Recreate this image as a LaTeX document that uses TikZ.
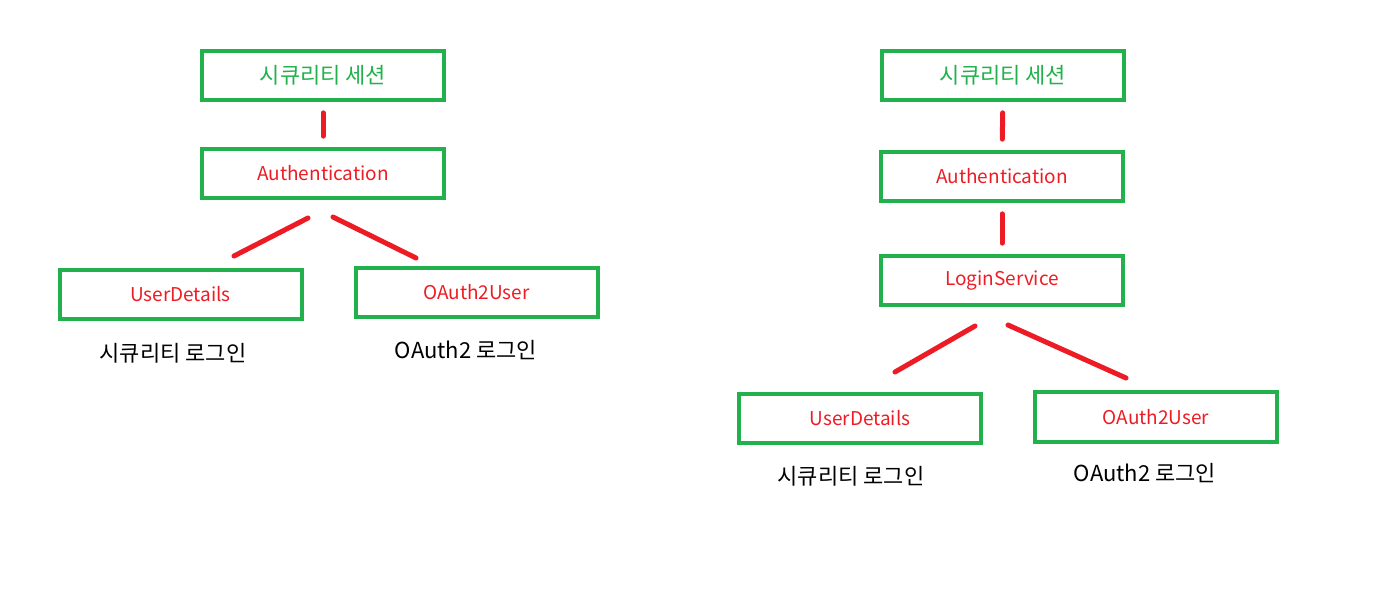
\documentclass[tikz,border=0pt]{standalone}
\usepackage{fontspec}
\setmainfont{Noto Sans CJK KR}
\usepackage{xcolor}
\definecolor{paintgreen}{HTML}{22B14C}
\definecolor{paintred}{HTML}{ED1C24}
\usepackage{tikz}
\usetikzlibrary{
  positioning
}

\begin{document}
\begin{tikzpicture}[
  x=0.75pt, y=-0.75pt,
  box/.style={draw=paintgreen, line width=3pt, minimum width=181.5pt,
    minimum height=37pt, inner sep=0pt, font=\fontsize{14.25}{17}\selectfont},
  sess/.style={box, text=paintgreen, font=\fontsize{16.5}{19}\selectfont},
  link/.style={draw=paintred, line width=3.75pt, line cap=round},
  note/.style={font=\fontsize{16.5}{19}\selectfont, text=black}
]
% Canvas
\useasboundingbox (0,0) rectangle (1390,589);

% Left tree
\node[sess] (lsess) at (323,75.5) {시큐리티 세션};
\node[box, text=paintred] (lauth) at (323,173.5) {Authentication};
\node[box, text=paintred] (lud) at (180.5,294.5) {UserDetails};
\node[box, text=paintred] (loa) at (476.5,292.5) {OAuth2User};
\node[note] (lnud) at (173,353) {시큐리티 로그인};
\node[note] (lnoa) at (466,350) {OAuth2 로그인};

% Right tree
\node[sess] (rsess) at (1003,75.5) {시큐리티 세션};
\node[box, text=paintred] (rauth) at (1002,176.5) {Authentication};
\node[box, text=paintred] (rlog) at (1002,280.5) {LoginService};
\node[box, text=paintred] (rud) at (860,418.5) {UserDetails};
\node[box, text=paintred] (roa) at (1156,417) {OAuth2User};
\node[note] (rnud) at (851,476) {시큐리티 로그인};
\node[note] (rnoa) at (1145,473) {OAuth2 로그인};

% Free ends of the slanted links
\coordinate (la1) at (308,218);
\coordinate (la2) at (234,256);
\coordinate (lb1) at (333,217);
\coordinate (lb2) at (416,258);
\coordinate (ra1) at (975,326);
\coordinate (ra2) at (895,372);
\coordinate (rb1) at (1008,325);
\coordinate (rb2) at (1126,378);

% Links
\draw[link, shorten <=8pt, shorten >=8pt] (lsess) -- (lauth);
\draw[link] (la1) -- (la2);
\draw[link] (lb1) -- (lb2);
\draw[link, shorten <=8pt, shorten >=8pt] (rsess) -- (rauth);
\draw[link, shorten <=8pt, shorten >=8pt] (rauth) -- (rlog);
\draw[link] (ra1) -- (ra2);
\draw[link] (rb1) -- (rb2);

\end{tikzpicture}
\end{document}
